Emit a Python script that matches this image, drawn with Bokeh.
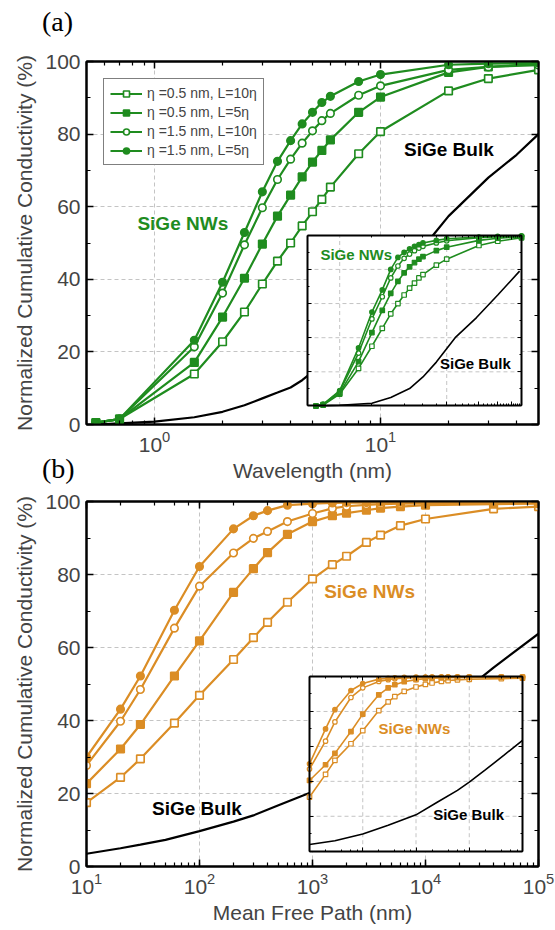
import math
from bokeh.plotting import figure
from bokeh.models import (LogAxis, LinearAxis, Range1d, LogScale, LinearScale, FixedTicker,
                          LogTickFormatter, CustomJSTickFormatter, Div,
                          SingleIntervalTicker, Legend, LegendItem, Label)
from bokeh.layouts import column
from bokeh.embed import file_html
from bokeh.resources import INLINE

GREEN = "#1f8c1f"
ORANGE = "#db8d25"
FONT = "Liberation Sans"
SERIF = "Liberation Serif"
GRID = "#c4c4c4"

# ---------------- data: panel (a) main ----------------
wl = [0.55, 0.7, 1.5, 2, 2.5, 3, 3.5, 4, 4.5, 5, 5.5, 6, 8, 10, 20, 30, 50]
a_os = [0.5, 1.5, 13.9, 22.8, 31, 38.7, 45, 50, 54.7, 58.6, 62, 65.4, 74.6, 80.7, 91.9, 95.3, 97.7]
a_fs = [0.5, 1.5, 17.1, 29.6, 40.3, 49.7, 57.4, 63.2, 68.2, 72.3, 75.5, 78.4, 86, 90.2, 97, 98.5, 99.4]
a_oc = [0.5, 1.5, 21.4, 36.2, 49.5, 59.7, 67.5, 73.1, 77.5, 80.9, 83.7, 85.7, 90.7, 93.3, 97.7, 98.5, 99]
a_fc = [0.5, 1.5, 23.2, 39.2, 52.9, 64.1, 72.5, 78.2, 82.8, 86, 88.7, 90.4, 94.5, 96.4, 99.1, 99.4, 99.6]
a_bulk_x = [0.55, 0.7, 1, 1.5, 2, 2.5, 3, 3.5, 4, 4.5, 5, 6, 8, 10, 12, 15, 17, 20, 30, 40, 50]
a_bulk = [0, 0.3, 0.8, 2, 3.5, 5.3, 7.2, 8.8, 10.2, 12.2, 14.5, 18, 25, 31, 37, 46, 52, 57.4, 68, 74.3, 80]

# ---------------- data: panel (a) inset ----------------
ia_x = [0.6, 0.7, 1, 1.5, 2, 2.5, 3, 3.5, 4, 4.5, 5, 5.5, 6, 8, 10, 20, 30, 50]
ia_os = [0, 0.5, 7, 22, 35, 45.5, 54, 60, 65, 69, 72, 75, 77, 82.5, 86, 94, 96.5, 98.5]
ia_fs = [0, 0.8, 7.5, 26, 43, 56, 66, 73, 78, 81.5, 84, 86, 87.5, 91, 93, 97, 98.3, 99]
ia_oc = [0, 1, 8.5, 31, 51, 64, 75, 82, 86.5, 89, 91, 92.5, 93.5, 95.5, 96.8, 98.6, 99.1, 99.5]
ia_fc = [0, 1, 9, 34, 55, 68, 80, 87, 90, 92, 93.5, 94.5, 95.5, 97, 98, 99, 99.4, 99.6]
ia_bulk_x = [0.6, 1, 2, 3, 4.5, 6, 8, 12, 19, 30, 48]
ia_bulk = [0, 0.4, 1.6, 5, 10.2, 17, 25.7, 40, 51.8, 65, 79]

# ---------------- data: panel (b) main ----------------
mfp = [10, 20, 30, 60, 100, 200, 300, 400, 600, 1000, 1500, 2000, 3000, 4000, 6000, 10000, 40000, 100000]
b_os = [17.5, 24.4, 29.5, 39.3, 46.9, 56.7, 62.7, 66.9, 72.4, 78.8, 82.7, 85, 88.8, 90.8, 93.4, 95.2, 98, 98.6]
b_fs = [22.7, 32.2, 38.9, 52.2, 61.8, 75.1, 81.6, 86, 91, 94.5, 96.1, 96.8, 97.6, 98.2, 98.6, 99, 99.3, 99.4]
b_oc = [27.7, 39.8, 48.5, 65.3, 76.8, 85.9, 89.9, 91.8, 94.5, 96.7, 98.1, 98.7, 99.1, 99.3, 99.4, 99.5, 99.6, 99.7]
b_fc = [30, 43.1, 52.2, 70.2, 82.2, 92.5, 96.1, 97.5, 99, 99.4, 99.6, 99.7, 99.7, 99.8, 99.8, 99.8, 99.8, 99.8]
b_bulk_x = [10, 20, 30, 50, 100, 200, 300, 500, 1000, 2000, 5000, 10000, 20000, 40000, 100000]
b_bulk = [3.5, 5.0, 6.0, 7.3, 9.7, 12.3, 14, 16.8, 20.5, 25, 33, 39.5, 47, 54.5, 63.8]

# ---------------- data: panel (b) inset ----------------
ib_os = [31, 44, 52, 61.5, 69, 80.5, 85.5, 88.5, 91.5, 94, 95.5, 96.3, 97.2, 97.7, 98.1, 98.4, 98.8, 99]
ib_fs = [40.5, 49.5, 56, 68.5, 78.5, 89.5, 93.5, 95.3, 97, 98.2, 98.8, 99, 99.2, 99.3, 99.4, 99.5, 99.6, 99.7]
ib_oc = [47, 63, 74, 88, 93.5, 97.2, 98.2, 98.7, 99.1, 99.4, 99.5, 99.6, 99.6, 99.7, 99.7, 99.7, 99.7, 99.7]
ib_fc = [50, 70, 81, 92, 96, 98.5, 99, 99.3, 99.5, 99.6, 99.7, 99.7, 99.8, 99.8, 99.8, 99.8, 99.8, 99.8]
ib_bulk_x = [10, 30, 100, 300, 1000, 2500, 6000, 10000, 20000, 45000, 100000]
ib_bulk = [3.8, 6.0, 9.8, 14.8, 20.8, 28, 34.8, 39.5, 46.5, 55, 63.5]

labels = ["\u03b7 =0.5 nm, L=10\u03b7", "\u03b7 =0.5 nm, L=5\u03b7",
          "\u03b7 =1.5 nm, L=10\u03b7", "\u03b7 =1.5 nm, L=5\u03b7"]
markers = [("square", False), ("square", True), ("circle", False), ("circle", True)]
a_major_ticks = [1, 10]
y_ticks_interval = 20


def log_minors(lo, hi):
    out = []
    for e in range(-3, 7):
        for m in range(2, 10):
            v = m * 10 ** e
            if lo <= v <= hi:
                out.append(v)
    return out


def blank():
    return CustomJSTickFormatter(code="return ''")


def style_axis(ax, labels_on=True):
    ax.axis_line_width = 2
    ax.axis_line_color = "black"
    ax.major_tick_in = 7
    ax.major_tick_out = 0
    ax.minor_tick_in = 4
    ax.minor_tick_out = 0
    ax.major_tick_line_width = 1.5
    ax.minor_tick_line_width = 1.2
    ax.axis_label_text_font = FONT
    ax.axis_label_text_font_style = "normal"
    ax.axis_label_text_font_size = "21px"
    ax.major_label_text_font = FONT
    ax.major_label_text_font_size = "21px"
    ax.major_label_standoff = 6
    if not labels_on:
        ax.formatter = blank()
        ax.major_label_standoff = 0


def make_fig(xr, height, top, bottom, xlabel, xticker_factory=None):
    p = figure(width=555, height=height, x_axis_type="log",
               x_range=Range1d(*xr), y_range=Range1d(0, 100),
               output_backend="svg", toolbar_location=None,
               min_border_left=86, min_border_right=17,
               min_border_top=top, min_border_bottom=bottom)
    p.outline_line_color = "black"
    p.outline_line_width = 2
    p.background_fill_color = "white"
    p.border_fill_color = None
    p.yaxis.ticker = SingleIntervalTicker(interval=y_ticks_interval, num_minor_ticks=2)
    p.ygrid.ticker = SingleIntervalTicker(interval=y_ticks_interval)
    if xticker_factory is not None:
        p.xaxis.ticker = xticker_factory()
        p.xgrid.ticker = xticker_factory()
    p.xaxis.formatter = LogTickFormatter()
    style_axis(p.xaxis[0])
    style_axis(p.yaxis[0])
    p.xaxis.axis_label = xlabel
    p.yaxis.axis_label = "Normalized Cumulative Conductivity (%)"
    p.xaxis.axis_label_standoff = 4
    p.yaxis.axis_label_standoff = 6
    top_ax = LogAxis()
    if xticker_factory is not None:
        top_ax.ticker = xticker_factory()
    style_axis(top_ax, False)
    p.add_layout(top_ax, "above")
    r_ax = LinearAxis(ticker=SingleIntervalTicker(interval=y_ticks_interval, num_minor_ticks=2))
    style_axis(r_ax, False)
    p.add_layout(r_ax, "right")
    for g in (p.xgrid[0], p.ygrid[0]):
        g.grid_line_color = GRID
        g.grid_line_dash = "4 3"
        g.grid_line_width = 1
    return p


def draw_series(p, x, ys, color, size, lw, **kw):
    rs = []
    for y, (mk, filled) in zip(ys, markers):
        l = p.line(x, y, line_color=color, line_width=lw, **kw)
        s = p.scatter(x, y, marker=mk, size=size, line_color=color, line_width=lw * 0.75,
                      fill_color=color if filled else "white", **kw)
        rs.append([l, s])
    return rs


def add_inset(p, name, xlo, xhi, fl, fr, fb, ft, gx, color, xs, ys, bx, by, nws, bulk):
    lo, hi = math.log10(xlo), math.log10(xhi)
    span = (hi - lo) / (fr - fl)
    s0 = lo - fl * span
    yspan = 100.0 / (ft - fb)
    y0 = -fb * yspan
    xn, yn = name + "x", name + "y"
    p.extra_x_ranges = {**p.extra_x_ranges, xn: Range1d(10 ** s0, 10 ** (s0 + span))}
    p.extra_x_scales = {**p.extra_x_scales, xn: LogScale()}
    p.extra_y_ranges = {**p.extra_y_ranges, yn: Range1d(y0, y0 + yspan)}
    p.extra_y_scales = {**p.extra_y_scales, yn: LinearScale()}
    kw = dict(x_range_name=xn, y_range_name=yn)
    p.quad(left=[xlo], right=[xhi], bottom=[0], top=[100], fill_color="white",
           line_color=None, **kw)
    p.segment(x0=gx, y0=[0] * len(gx), x1=gx, y1=[100] * len(gx), line_color=GRID,
              line_dash="4 3", line_width=1, **kw)
    hy = [20, 40, 60, 80]
    p.segment(x0=[xlo] * 4, y0=hy, x1=[xhi] * 4, y1=hy, line_color=GRID,
              line_dash="4 3", line_width=1, **kw)
    p.line(bx, by, line_color="black", line_width=1.6, **kw)
    draw_series(p, xs, ys, color, 4.5, 1.6, **kw)
    for side, loc in (("below", 0), ("above", 100)):
        ax = LogAxis(x_range_name=xn, y_range_name=yn, fixed_location=loc, bounds=(xlo, xhi))
        style_axis(ax, False)
        ax.major_tick_in = 4
        ax.minor_tick_in = 2
        ax.major_tick_line_width = 1
        ax.minor_tick_line_width = 1
        p.add_layout(ax, side)
    for side, loc in (("left", xlo), ("right", xhi)):
        ax = LinearAxis(x_range_name=xn, y_range_name=yn, fixed_location=loc, bounds=(0, 100),
                        ticker=SingleIntervalTicker(interval=y_ticks_interval, num_minor_ticks=2))
        style_axis(ax, False)
        ax.major_tick_in = 4
        ax.minor_tick_in = 2
        ax.major_tick_line_width = 1
        ax.minor_tick_line_width = 1
        p.add_layout(ax, side)
    p.add_layout(Label(x=nws[0], y=nws[1], text="SiGe NWs", text_color=color,
                       text_font=FONT, text_font_style="bold", text_font_size="15px",
                       text_baseline="middle", **kw))
    p.add_layout(Label(x=bulk[0], y=bulk[1], text="SiGe Bulk", text_color="black",
                       text_font=FONT, text_font_style="bold", text_font_size="15px",
                       text_baseline="middle", **kw))


def a_ticker():
    return FixedTicker(ticks=a_major_ticks, minor_ticks=log_minors(0.5, 50))


def panel_tag(txt, margin):
    return Div(text='<span style="font-family:\'Liberation Serif\';font-size:28px;'
                    'line-height:30px;color:black">%s</span>' % txt,
               width=40, height=30, margin=margin,
               styles={"position": "relative", "z-index": "5"})


# ---------------- panel (a) ----------------
pa = make_fig((0.5, 50), 484, 61, 56, "Wavelength (nm)", a_ticker)
pa.line(a_bulk_x, a_bulk, line_color="black", line_width=2.2)
ra = draw_series(pa, wl, [a_os, a_fs, a_oc, a_fc], GREEN, 7.5, 2.2)
pa.add_layout(Label(x=0.84, y=55.3, text="SiGe NWs", text_color=GREEN, text_font=FONT,
                    text_font_style="bold", text_font_size="19px", text_baseline="middle"))
pa.add_layout(Label(x=12.7, y=75.7, text="SiGe Bulk", text_color="black", text_font=FONT,
                    text_font_style="bold", text_font_size="19px", text_baseline="middle"))
add_inset(pa, "ia", 0.5, 50, 0.4889, 0.9624, 0.051, 0.5213, [1, 10], GREEN,
          ia_x, [ia_os, ia_fs, ia_oc, ia_fc], ia_bulk_x, ia_bulk, (0.66, 88.9), (8.65, 25.1))
legend = Legend(items=[LegendItem(label=t, renderers=r) for t, r in zip(labels, ra)],
                location="top_left", margin=17, padding=6, spacing=3,
                label_height=15, glyph_height=15, glyph_width=32, label_standoff=5,
                label_text_font=FONT, label_text_font_size="14px",
                border_line_color="black", border_line_width=1,
                background_fill_color="white", background_fill_alpha=1)
pa.add_layout(legend)

# ---------------- panel (b) ----------------
pb = make_fig((10, 100000), 445, 17, 63, "Mean Free Path (nm)")
pb.line(b_bulk_x, b_bulk, line_color="black", line_width=2.2)
draw_series(pb, mfp, [b_os, b_fs, b_oc, b_fc], ORANGE, 7.5, 2.2)
pb.add_layout(Label(x=1268, y=75.3, text="SiGe NWs", text_color=ORANGE, text_font=FONT,
                    text_font_style="bold", text_font_size="19px", text_baseline="middle"))
pb.add_layout(Label(x=38, y=16, text="SiGe Bulk", text_color="black", text_font=FONT,
                    text_font_style="bold", text_font_size="19px", text_baseline="middle"))
add_inset(pb, "ib", 10, 100000, 0.4934, 0.9646, 0.0419, 0.5205, [100, 1000, 10000], ORANGE,
          mfp, [ib_os, ib_fs, ib_oc, ib_fc], ib_bulk_x, ib_bulk, (198, 70.2), (2100, 20.8))

tag_a = panel_tag("(a)", (7, 0, -37, 42))
tag_b = panel_tag("(b)", (-30, 0, 0, 42))
layout = column(tag_a, pa, tag_b, pb, spacing=0)
open("out.html", "w").write(file_html(layout, INLINE))
